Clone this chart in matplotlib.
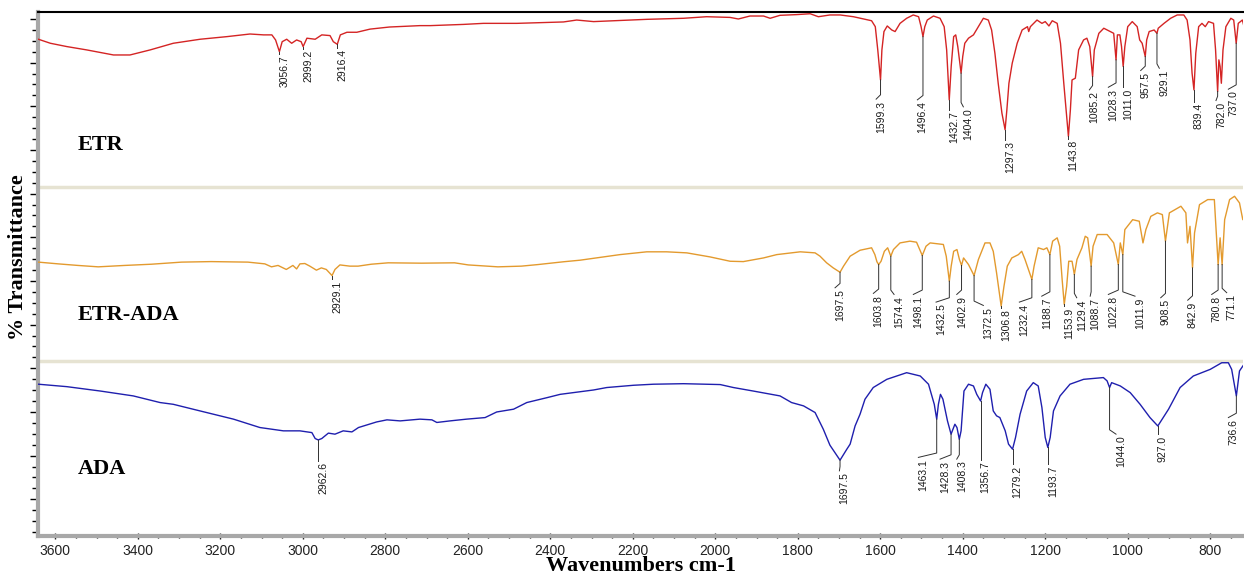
import matplotlib.pyplot as plt
import numpy as np

# ETR spectrum (wavenumber, %T inside its own band)
etr_wn = [3641, 3612, 3572, 3524, 3459, 3419, 3370, 3314, 3249, 3184, 3128, 3095, 3075, 3066,
          3056.7, 3050, 3039, 3027, 3015, 3004, 2999.2, 2990, 2970, 2954, 2934, 2926, 2916.4,
          2909, 2893, 2869, 2837, 2790, 2716, 2691, 2610, 2562, 2481, 2368, 2336, 2295, 2247,
          2166, 2077, 2021, 1964, 1944, 1916, 1883, 1867, 1843, 1803, 1770, 1750, 1722, 1697,
          1665, 1621, 1612, 1606, 1599.3, 1596, 1591, 1583, 1572, 1564, 1552, 1536, 1520, 1507,
          1501, 1496.4, 1492, 1486, 1471, 1455, 1445, 1439, 1432.7, 1428, 1422, 1417, 1412,
          1404.0, 1400, 1395, 1386, 1374, 1362, 1350, 1338, 1330, 1322, 1314, 1305, 1297.3,
          1293, 1288, 1280, 1268, 1256, 1243, 1240, 1236, 1220, 1208, 1200, 1191, 1183, 1171,
          1163, 1155, 1143.8, 1139, 1135, 1127, 1119, 1107, 1099, 1092, 1085.2, 1081, 1070,
          1058, 1042, 1034, 1028.3, 1025, 1019, 1015, 1011.0, 1007, 1000, 989, 977, 971, 965,
          957.5, 954, 948, 936, 929.1, 926, 912, 896, 880, 864, 856, 849, 844, 839.4, 835, 828,
          820, 812, 804, 792, 787, 782.0, 779, 776, 773, 769, 762, 750, 743, 737.0, 732, 722, 716]
etr_t = [84.4, 82.1, 80.2, 78.3, 75.4, 75.4, 78.3, 82.1, 84.4, 85.9, 87.4, 86.9, 86.9, 84.0,
         77.3, 83.0, 84.4, 82.1, 84.0, 83.0, 80.2, 85.0, 84.4, 86.9, 86.5, 83.0, 81.5,
         86.9, 88.4, 88.4, 90.2, 91.4, 92.2, 92.2, 92.9, 93.5, 93.5, 94.3, 95.4, 94.5, 95.0,
         95.8, 96.4, 97.3, 96.9, 96.0, 97.7, 97.7, 96.4, 98.1, 98.5, 99.0, 97.3, 98.3, 98.3,
         97.3, 95.0, 91.6, 78.3, 61.1, 78.3, 88.8, 92.0, 89.7, 88.8, 93.5, 96.4, 98.3, 97.3,
         91.6, 85.9, 91.6, 95.4, 97.7, 96.4, 91.6, 78.3, 49.7, 68.8, 85.9, 86.9, 80.2,
         65.0, 74.5, 82.1, 85.0, 86.9, 91.6, 96.4, 95.4, 89.7, 76.4, 59.2, 42.1, 32.6,
         44.0, 59.2, 70.7, 82.1, 89.7, 91.6, 88.8, 91.6, 95.4, 93.5, 94.5, 92.0, 95.0, 93.5,
         82.1, 59.2, 28.8, 44.0, 61.1, 62.1, 78.3, 84.0, 85.0, 80.2, 63.0, 78.3, 87.8,
         90.7, 88.8, 87.8, 72.6, 86.9, 86.9, 80.2, 68.8, 80.2, 91.6, 94.5, 91.6, 84.0, 82.1,
         74.5, 84.0, 88.8, 89.7, 87.8, 90.7, 93.5, 96.4, 98.3, 98.3, 95.4, 84.0, 65.0, 55.4, 76.4, 91.6,
         93.5, 91.6, 94.5, 93.5, 78.3, 54.5, 72.6, 68.8, 59.2, 78.3, 91.6, 96.4, 95.4, 82.1, 93.5, 95.4, 89.7]

# ETR-ADA spectrum
mix_wn = [3641, 3593, 3545, 3496, 3432, 3367, 3294, 3222, 3133, 3092, 3076, 3060, 3040, 3024,
          3015, 3007, 2995, 2983, 2967, 2955, 2943, 2929.1, 2922, 2910, 2886, 2866, 2834, 2793,
          2712, 2632, 2599, 2527, 2470, 2430, 2368, 2328, 2231, 2166, 2118, 2069, 2013, 1964,
          1932, 1883, 1851, 1794, 1758, 1746, 1730, 1714, 1697.5, 1689, 1673, 1649, 1621, 1613,
          1608, 1603.8, 1598, 1590, 1582, 1574.4, 1568, 1552, 1528, 1512, 1498.1, 1489, 1479,
          1447, 1440, 1432.5, 1428, 1422, 1414, 1408, 1402.9, 1398, 1386, 1372.5, 1362, 1346,
          1334, 1326, 1318, 1306.8, 1300, 1292, 1281, 1265, 1257, 1249, 1232.4, 1227, 1217,
          1204, 1196, 1188.7, 1182, 1171, 1165, 1159, 1153.9, 1148, 1143, 1135, 1129.4, 1123,
          1111, 1103, 1097, 1088.7, 1084, 1074, 1050, 1034, 1022.8, 1018, 1011.9, 1007, 988,
          972, 963, 956, 944, 928, 916, 908.5, 899, 871, 859, 855, 849, 842.9, 838, 826, 806,
          790, 780.8, 776, 771.1, 765, 753, 741, 729, 721, 716]
mix_t = [56.8, 55.8, 54.9, 54.1, 54.9, 55.6, 56.8, 57.1, 56.8, 55.8, 54.1, 54.9, 52.6, 54.9,
         52.9, 55.8, 56.0, 54.5, 52.2, 53.5, 52.6, 49.1, 52.6, 55.2, 54.5, 54.5, 55.6, 56.4,
         56.2, 56.4, 55.2, 54.1, 54.5, 55.4, 57.0, 57.9, 61.1, 62.7, 62.7, 62.1, 59.8, 57.3,
         57.1, 59.2, 61.1, 62.7, 62.1, 60.2, 56.4, 53.5, 51.0, 54.5, 60.2, 63.6, 65.0, 61.1,
         57.0, 55.4, 57.3, 63.0, 65.0, 60.2, 64.0, 67.8, 68.8, 68.2, 60.6, 65.9, 67.8,
         66.9, 60.2, 45.9, 54.5, 63.0, 64.0, 58.3, 54.9, 59.2, 55.4, 49.1, 58.3, 67.8,
         67.8, 63.0, 50.7, 31.6, 43.0, 54.5, 59.2, 61.1, 63.0, 58.3, 46.9, 54.5, 65.0,
         64.0, 65.0, 61.1, 68.8, 70.7, 65.9, 46.9, 32.6, 43.0, 57.3, 57.3, 49.7, 58.3,
         65.0, 71.6, 70.7, 54.5, 65.9, 72.6, 72.6, 67.8, 55.4, 67.8, 61.1, 75.4, 81.1,
         80.2, 67.8, 75.4, 83.0, 85.0, 84.0, 68.8, 85.0, 88.8, 85.0, 67.8, 77.3, 53.5, 73.5, 89.7, 92.6,
         92.6, 55.4, 70.7, 55.4, 81.1, 92.6, 94.5, 90.7, 81.1, 85.0]

# ADA spectrum
ada_wn = [3641, 3572, 3491, 3411, 3346, 3314, 3249, 3168, 3104, 3047, 3031, 3007, 2978, 2970,
          2962.6, 2954, 2938, 2922, 2902, 2881, 2877, 2865, 2821, 2796, 2764, 2716, 2687, 2675,
          2643, 2603, 2558, 2530, 2489, 2457, 2408, 2376, 2295, 2263, 2198, 2150, 2077, 1988,
          1956, 1908, 1843, 1815, 1786, 1758, 1738, 1722, 1697.5, 1681, 1673, 1661, 1649, 1637,
          1617, 1584, 1536, 1503, 1483, 1469, 1463.1, 1459, 1454, 1448, 1437, 1428.3, 1419,
          1414, 1408.3, 1404, 1397, 1386, 1374, 1366, 1356.7, 1352, 1344, 1334, 1326, 1318,
          1310, 1297, 1289, 1279.2, 1272, 1261, 1245, 1229, 1217, 1208, 1200, 1193.7, 1188,
          1180, 1164, 1140, 1107, 1059, 1050, 1044.0, 1039, 1018, 994, 970, 946, 927.0, 914,
          901, 873, 841, 800, 772, 756, 748, 736.6, 729, 718]
ada_t = [86.9, 85.5, 83.0, 80.2, 76.4, 75.4, 71.6, 66.9, 62.1, 60.2, 60.2, 60.2, 59.2, 55.8,
         55.0, 55.8, 58.9, 58.3, 60.2, 59.6, 60.2, 62.1, 65.3, 66.5, 65.9, 66.9, 66.5, 65.0,
         65.9, 66.9, 67.8, 71.0, 72.6, 76.4, 79.2, 81.1, 83.6, 85.0, 86.3, 86.9, 87.2, 86.7,
         85.0, 83.0, 80.2, 76.4, 74.5, 70.7, 61.1, 52.0, 43.4, 49.7, 52.6, 63.0, 69.7, 78.3,
         85.0, 89.7, 93.5, 91.6, 86.9, 75.4, 66.9, 75.4, 81.1, 78.3, 65.9, 58.3, 64.0,
         62.1, 55.4, 60.2, 83.0, 86.9, 85.9, 81.1, 77.3, 82.1, 86.9, 84.0, 71.6, 68.8,
         67.8, 60.2, 52.6, 49.7, 56.4, 69.7, 83.0, 87.8, 85.9, 73.5, 56.4, 50.7, 56.4,
         71.6, 80.2, 86.9, 89.7, 90.7, 88.8, 85.0, 87.8, 85.9, 82.1, 75.4, 67.8, 63.0, 67.8,
         72.6, 85.0, 91.6, 95.4, 99.2, 99.2, 95.4, 80.2, 94.5, 98.3]

# peak labels: peak wavenumber, end of leader (wavenumber, %T)
etr_peaks = [3056.7, 2999.2, 2916.4, 1599.3, 1496.4, 1432.7, 1404.0, 1297.3, 1143.8, 1085.2,
             1028.3, 1011.0, 957.5, 929.1, 839.4, 782.0, 737.0]
etr_lab_wn = [3056.7, 2999.2, 2916.4, 1610, 1510, 1432.7, 1398.5, 1297.3, 1143.8, 1093,
              1047, 1011.0, 968.5, 923.4, 839.4, 786, 756]
etr_lab_t = [76.0, 79.0, 79.5, 50.1, 49.7, 44.0, 45.7, 26.9, 27.4, 55.4,
             56.9, 56.9, 66.5, 67.8, 48.7, 49.3, 55.8]

mix_peaks = [2929.1, 1697.5, 1603.8, 1574.4, 1498.1, 1432.5, 1402.9, 1372.5, 1306.8, 1232.4,
             1188.7, 1153.9, 1129.4, 1088.7, 1022.8, 1011.9, 908.5, 842.9, 780.8, 771.1]
mix_lab_wn = [2929.1, 1709.6, 1616.7, 1566.5, 1519.8, 1464.7, 1414.5, 1350, 1306.8, 1262.8,
              1208.5, 1153.9, 1123.6, 1091, 1047, 982.3, 920, 854.5, 796.4, 760]
mix_lab_t = [46.9, 42.1, 38.9, 38.3, 38.3, 33.9, 38.3, 32.0, 30.7, 33.9,
             37.3, 31.6, 36.4, 37.3, 38.3, 37.3, 36.4, 35.0, 38.3, 39.3]

ada_peaks = [2962.6, 1697.5, 1463.1, 1428.3, 1408.3, 1356.7, 1279.2, 1193.7, 1044.0, 927.0, 736.6]
ada_lab_wn = [2962.6, 1699, 1507.6, 1455, 1414.5, 1356.7, 1279.2, 1193.7, 1028.4, 927.0, 756]
ada_lab_t = [43.0, 37.3, 45.0, 44.0, 44.0, 43.4, 41.1, 41.1, 58.3, 58.3, 67.8]

names = ['ETR', 'ETR-ADA', 'ADA']
offsets = [200, 100, 0]
colors = ['#d42424', '#e39a2e', '#1f1fae']

LABEL_FONT = ['Liberation Sans', 'DejaVu Sans']
SERIF = ['Liberation Serif', 'DejaVu Serif']


def draw_spectrum(ax, wn, t, off, color, peaks, lab_wn, lab_t):
    wn = np.array(wn)
    t = np.array(t)
    ax.plot(wn, t + off, color=color, lw=1.0, zorder=3)
    for pk, lw_, lt in zip(peaks, lab_wn, lab_t):
        pt = np.interp(pk, wn[::-1], t[::-1])
        if abs(lw_ - pk) < 0.5:
            xs = [pk, pk]
            ys = [pt + off, lt + off]
        else:
            xs = [pk, pk, lw_]
            ys = [pt + off, lt + 2.5 + off, lt + off]
        ax.plot(xs, ys, color='#303030', lw=0.7, zorder=4)
        ax.text(lw_, lt + off - 0.8, '%.1f' % pk, rotation=90, ha='left', va='top',
                fontsize=7.5, family=LABEL_FONT, color='#1a1a1a', zorder=5)


fig = plt.figure(figsize=(12.44, 5.77), dpi=100)
ax = fig.add_axes([38 / 1244, 1 - 536 / 577, 1205 / 1244, 524 / 577])

spectra = [(etr_wn, etr_t, etr_peaks, etr_lab_wn, etr_lab_t),
           (mix_wn, mix_t, mix_peaks, mix_lab_wn, mix_lab_t),
           (ada_wn, ada_t, ada_peaks, ada_lab_wn, ada_lab_t)]
for (wn, t, pk, lwn, lt), off, c in zip(spectra, offsets, colors):
    draw_spectrum(ax, wn, t, off, c, pk, lwn, lt)

# band separators
for y in [100, 200]:
    ax.axhline(y, color='#e6e3d2', lw=2.5, zorder=2)

ax.text(3547, 224, 'ETR', fontsize=16, fontweight='bold', family=SERIF, va='center')
ax.text(3547, 126.3, 'ETR-ADA', fontsize=16, fontweight='bold', family=SERIF, va='center')
ax.text(3545, 38.3, 'ADA', fontsize=16, fontweight='bold', family=SERIF, va='center')

ax.set_xlim(3642, 720.5)
ax.set_ylim(0, 300)

ax.set_xticks(np.arange(3600, 700, -200))
ax.set_xticks(np.arange(3600, 700, -50), minor=True)
ax.set_yticks(np.arange(296, 0, -25))
ax.set_yticks(np.arange(296, 0, -6.25), minor=True)
ax.set_yticklabels([])
ax.tick_params(axis='x', which='major', direction='inout', length=5, width=1, pad=3,
               labelsize=10, colors='#222222')
ax.tick_params(axis='x', which='minor', direction='inout', length=3, width=1)
ax.tick_params(axis='y', which='major', direction='out', length=6, width=1)
ax.tick_params(axis='y', which='minor', direction='out', length=4, width=1)
for lab in ax.get_xticklabels():
    lab.set_family(['Liberation Sans Narrow', 'Liberation Sans', 'DejaVu Sans'])

ax.spines['right'].set_visible(False)
ax.spines['top'].set_color('black')
ax.spines['top'].set_linewidth(1.5)
ax.spines['left'].set_color('#a8a8a8')
ax.spines['left'].set_linewidth(3)
ax.spines['bottom'].set_color('#a8a8a8')
ax.spines['bottom'].set_linewidth(3)

fig.text(18 / 1244, 1 - 257 / 577, '% Transmittance', rotation=90, ha='center', va='center',
         fontsize=16, fontweight='bold', family=SERIF)
fig.text(641 / 1244, 1 - 566 / 577, 'Wavenumbers cm-1', ha='center', va='center',
         fontsize=16, fontweight='bold', family=SERIF)

fig.savefig('out.png', dpi=100)
